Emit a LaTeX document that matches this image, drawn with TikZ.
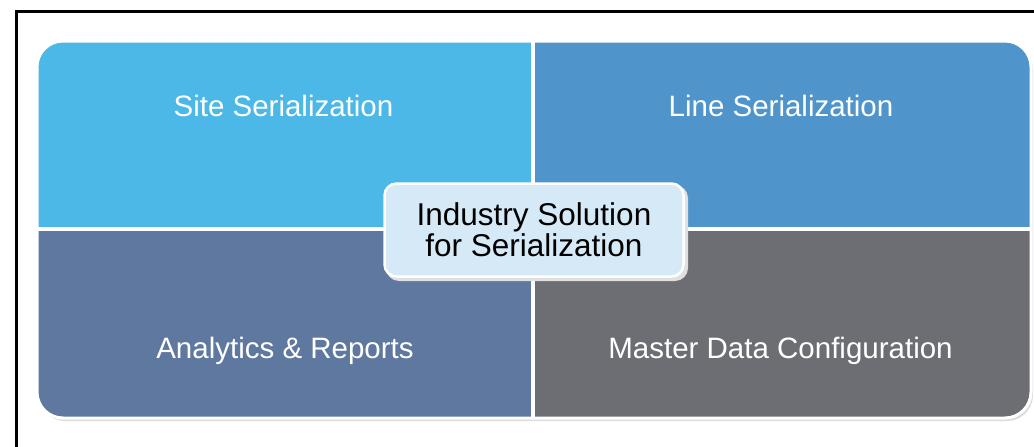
\documentclass[tikz,border=0pt]{standalone}
\usepackage{fontspec}
\setmainfont{Liberation Sans}

\definecolor{SiteBlue}{HTML}{4BB8E8}
\definecolor{LineBlue}{HTML}{4F95CB}
\definecolor{ReportBlue}{HTML}{5E789F}
\definecolor{MasterGrey}{HTML}{6D6E74}
\definecolor{CoreFill}{HTML}{D6E9F6}

\begin{document}
\begin{tikzpicture}
      [
        x=1pt, y=-1pt,
        QuadText/.style={text=white, font=\fontsize{29.5}{34}\selectfont, anchor=base, inner sep=0pt},
        CoreBox/.style={draw=white, line width=2.5pt, fill=CoreFill, rounded corners=12pt, minimum width=299pt, minimum height=93pt, align=center, font=\fontsize{31.5}{31}\selectfont},
      ]

      \useasboundingbox (0,0) rectangle (1034,447);
      \draw[line width=3pt] (16.5,452) -- (16.5,11.5) -- (1040,11.5);

      % shadow and quadrants
      \fill[black!14, rounded corners=26pt] (39,44) rectangle (1033,421);
      \begin{scope}
        \clip[rounded corners=25pt] (38,42) rectangle (1030,417);
        \fill[SiteBlue]   (38,42)   rectangle (533,229);
        \fill[LineBlue]   (533,42)  rectangle (1030,229);
        \fill[ReportBlue] (38,229)  rectangle (533,417);
        \fill[MasterGrey] (533,229) rectangle (1030,417);
      \end{scope}
      \draw[white, line width=3.5pt] (533,40) -- (533,419) (36,229) -- (1032,229);
      \draw[white, line width=3pt, rounded corners=26pt] (37,41) rectangle (1031,418);

      \node [QuadText] (site)   at (283.5,116) {Site Serialization};
      \node [QuadText] (line)   at (781,116)   {Line Serialization};
      \node [QuadText] (report) at (285,358)   {Analytics \& Reports};
      \node [QuadText] (master) at (780.5,358) {Master Data Configuration};

      \fill[black!12, rounded corners=13pt] (386,185) rectangle (688,281);
      \node [CoreBox] (core) at (534,230) {Industry Solution\\for Serialization};
    \end{tikzpicture}
\end{document}
